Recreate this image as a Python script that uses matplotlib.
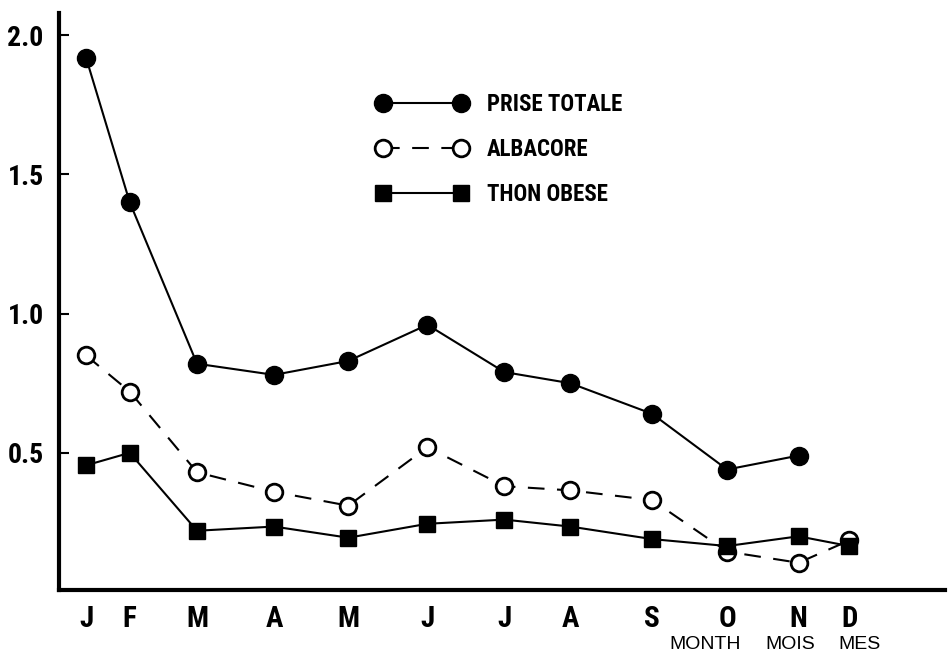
import matplotlib.pyplot as plt
from matplotlib import font_manager

# monthly catch rates; x positions follow the hand-spaced month axis
months = ["J", "F", "M", "A", "M", "J", "J", "A", "S", "O", "N", "D"]
month_pos = [0, 0.63, 1.60, 2.71, 3.78, 4.92, 6.03, 6.98, 8.16, 9.24, 10.27, 11.0]

prise_totale = [1.92, 1.40, 0.82, 0.78, 0.83, 0.96, 0.79, 0.75, 0.64, 0.44, 0.49]
albacore = [0.85, 0.72, 0.43, 0.36, 0.31, 0.52, 0.38, 0.365, 0.33, 0.145, 0.105, 0.185]
thon_obese = [0.455, 0.50, 0.22, 0.235, 0.195, 0.245, 0.26, 0.235, 0.19, 0.165, 0.20, 0.165]

yticks = [0.5, 1.0, 1.5, 2.0]
axis_names = ["MONTH", "MOIS", "MES"]

# pick a narrow face for the lettering if one is around
fonts = font_manager.fontManager.ttflist
names = {f.name for f in fonts}
stretch = "normal"
narrow = "DejaVu Sans"
for cand in ["Liberation Sans Narrow", "Roboto Condensed", "Open Sans Condensed",
             "Noto Sans Condensed", "Arial Narrow", "Nimbus Sans Narrow"]:
    if cand in names:
        narrow = cand
        break
else:
    for f in fonts:
        if f.stretch in ("condensed", "semi-condensed") or "Condensed" in f.fname:
            narrow = f.name
            stretch = "condensed"
            break

fig = plt.figure(figsize=(9.48, 6.58), dpi=100)
ax = fig.add_axes([0.0622, 0.1033, 0.9346, 0.8769])

ax.plot(month_pos[:len(prise_totale)], prise_totale, color="black", lw=1.5,
        marker="o", ms=13, mfc="black", mec="black", label="PRISE TOTALE")
ax.plot(month_pos, albacore, color="black", lw=1.5, linestyle=(0, (8, 6)),
        marker="o", ms=12, mfc="white", mec="black", mew=2, label="ALBACORE")
ax.plot(month_pos, thon_obese, color="black", lw=1.5,
        marker="s", ms=11, mfc="black", mec="black", label="THON OBESE")

ax.set_xlim(-0.39, 12.38)
ax.set_ylim(0.007, 2.08)

for side in ("top", "right"):
    ax.spines[side].set_visible(False)
for side in ("left", "bottom"):
    ax.spines[side].set_linewidth(3)

ax.set_yticks(yticks)
ax.set_yticklabels([f"{v:.1f}" for v in yticks], family=narrow, stretch=stretch,
                   fontweight="bold", fontsize=20)
ax.tick_params(axis="y", direction="in", length=7, width=1.5, pad=11)

ax.set_xticks(month_pos)
ax.set_xticklabels(months, family=narrow, stretch=stretch, fontweight="bold", fontsize=21)
ax.tick_params(axis="x", length=0, pad=11)

leg = ax.legend(loc="upper left", bbox_to_anchor=(376 / 948, 1 - 93 / 658),
                bbox_transform=fig.transFigure, frameon=False, numpoints=2,
                handlelength=4.0, handletextpad=0.85, labelspacing=0.96,
                borderpad=0, borderaxespad=0,
                prop={"family": narrow, "stretch": stretch, "weight": "bold", "size": 16.5})

for name, xc in zip(axis_names, [705, 790, 860]):
    fig.text(xc / 948, 0.021, name, ha="center", va="center",
             family=["Liberation Sans", "DejaVu Sans"], fontsize=14)

fig.savefig("out.png", dpi=100)
